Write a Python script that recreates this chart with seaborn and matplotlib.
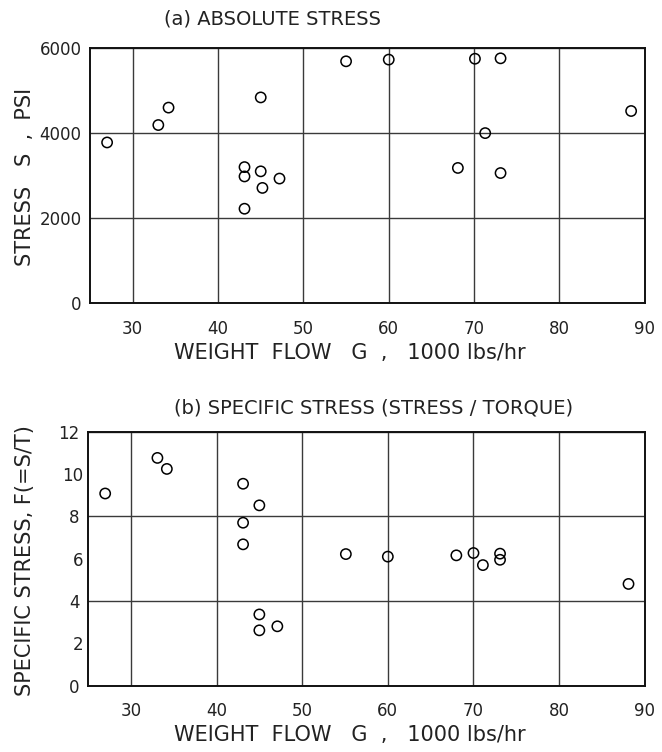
import matplotlib
matplotlib.use("Agg")
import matplotlib.pyplot as plt
import seaborn as sns
import pandas as pd

# ---- data ----
flow_a = [27, 33, 34.2, 43.1, 43.1, 43.1, 45, 45, 45.2, 47.2, 55, 60, 68.1, 70.1, 71.3, 73.1, 73.1, 88.4]
stress_a = [3780, 4190, 4600, 3200, 2980, 2220, 4840, 3100, 2710, 2930, 5690, 5730, 3180, 5750, 4000, 5760, 3060, 4520]

flow_b = [27, 33.1, 34.2, 43.1, 45, 43.1, 43.1, 45, 45, 47.1, 55.1, 60, 68, 70, 71.1, 73.1, 73.1, 88.1]
spec_b = [9.08, 10.76, 10.24, 9.54, 8.52, 7.70, 6.68, 3.37, 2.62, 2.81, 6.22, 6.10, 6.16, 6.27, 5.70, 6.24, 5.95, 4.81]

x_ticks = [30, 40, 50, 60, 70, 80, 90]
ya_ticks = [0, 2000, 4000, 6000]
yb_major = [0, 4, 8, 12]
yb_minor = [2, 6, 10]

title_a = "(a) ABSOLUTE STRESS"
title_b = "(b) SPECIFIC STRESS (STRESS / TORQUE)"
xlabel = "WEIGHT  FLOW   G  ,   1000 lbs/hr"
ylabel_a = "STRESS   S  ,  PSI"
ylabel_b = "SPECIFIC STRESS, F(=S/T)"

df_a = pd.DataFrame({"flow": flow_a, "stress": stress_a})
df_b = pd.DataFrame({"flow": flow_b, "spec": spec_b})

sns.set_theme(style="white")
plt.rcParams["font.family"] = ["DejaVu Sans"]

fig = plt.figure(figsize=(6.62, 7.52), dpi=100)
ax_a = fig.add_axes([0.136, 0.597, 0.838, 0.339])
ax_b = fig.add_axes([0.133, 0.088, 0.841, 0.338])

mk = dict(marker="o", s=55, facecolor="none", edgecolor="black", linewidth=1.1, zorder=5)

sns.scatterplot(data=df_a, x="flow", y="stress", ax=ax_a, **mk)
sns.scatterplot(data=df_b, x="flow", y="spec", ax=ax_b, **mk)

for ax in (ax_a, ax_b):
    ax.set_xlim(25, 90)
    ax.set_xticks(x_ticks)
    ax.set_xticklabels([str(t) for t in x_ticks])
    ax.grid(True, which="major", color="#3a3a3a", linewidth=1.0)
    ax.tick_params(axis="both", which="both", length=0, labelsize=12, colors="#222222")
    ax.tick_params(axis="x", pad=12)
    ax.tick_params(axis="y", pad=6)
    for sp in ax.spines.values():
        sp.set_color("#111111")
        sp.set_linewidth(1.4)
    ax.set_xlabel("")
    ax.set_ylabel("")
    ax.set_axisbelow(True)

ax_a.set_ylim(0, 6000)
ax_a.set_yticks(ya_ticks)
ax_a.set_yticklabels([str(t) for t in ya_ticks])

ax_b.set_ylim(0, 12)
ax_b.set_yticks(yb_major)
ax_b.set_yticklabels([str(t) for t in yb_major])
ax_b.set_yticks(yb_minor, minor=True)
ax_b.set_yticklabels([str(t) for t in yb_minor], minor=True)

txt = dict(color="#222222")
fig.text(0.411, 0.975, title_a, ha="center", va="center", fontsize=14, **txt)
fig.text(0.565, 0.457, title_b, ha="center", va="center", fontsize=14, **txt)
fig.text(0.528, 0.530, xlabel, ha="center", va="center", fontsize=15, **txt)
fig.text(0.528, 0.022, xlabel, ha="center", va="center", fontsize=15, **txt)
fig.text(0.038, 0.765, ylabel_a, ha="center", va="center", rotation=90, fontsize=15, **txt)
fig.text(0.038, 0.255, ylabel_b, ha="center", va="center", rotation=90, fontsize=15, **txt)

fig.savefig("out.png", dpi=100)
